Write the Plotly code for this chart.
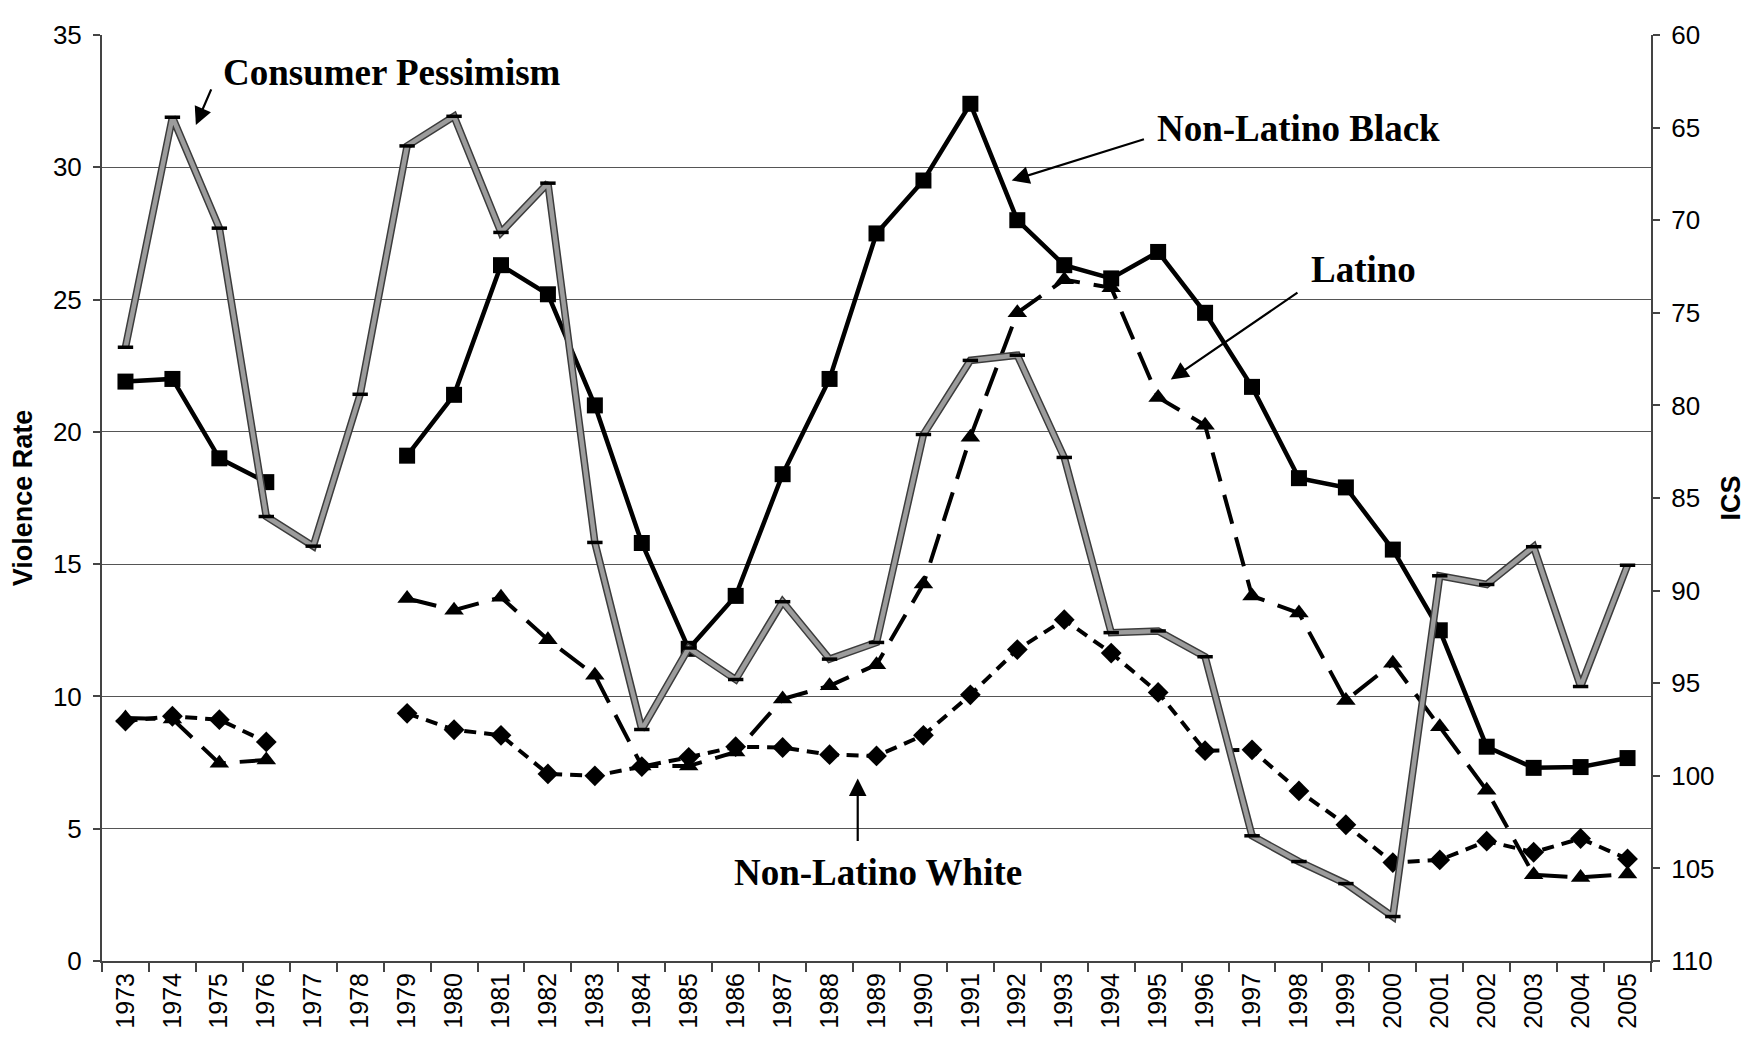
import plotly.graph_objects as go

years = [str(y) for y in range(1973, 2006)]

black = [21.9, 22.0, 19.0, 18.1, None, None, 19.1, 21.4, 26.3, 25.2, 21.0, 15.8,
         11.8, 13.8, 18.4, 22.0, 27.5, 29.5, 32.4, 28.0, 26.3, 25.8, 26.8, 24.5,
         21.7, 18.25, 17.9, 15.55, 12.5, 8.1, 7.3, 7.33, 7.67]

latino = [9.18, 9.15, 7.47, 7.6, None, None, 13.7, 13.26, 13.75, 12.14, 10.8, 7.37,
          7.37, 7.9, 9.9, 10.4, 11.2, 14.25, 19.8, 24.5, 25.75, 25.45, 21.3, 20.25,
          13.8, 13.15, 9.85, 11.25, 8.85, 6.45, 3.26, 3.16, 3.29]

white = [9.07, 9.25, 9.12, 8.28, None, None, 9.36, 8.74, 8.53, 7.07, 7.0, 7.35,
         7.7, 8.1, 8.07, 7.8, 7.75, 8.53, 10.06, 11.77, 12.9, 11.64, 10.15, 7.95,
         7.98, 6.43, 5.15, 3.72, 3.82, 4.53, 4.11, 4.63, 3.86]

ics = [76.86, 64.44, 70.43, 86.0, 87.6, 79.4, 65.99, 64.39, 70.66, 68.0, 87.4, 97.5,
       93.1, 94.8, 90.6, 93.7, 92.8, 81.57, 77.57, 77.29, 82.81, 92.27, 92.18, 93.57,
       103.24, 104.63, 105.82, 107.6, 89.2, 89.67, 87.63, 95.18, 88.63]

left_ticks = [0, 5, 10, 15, 20, 25, 30, 35]
right_ticks = [60, 65, 70, 75, 80, 85, 90, 95, 100, 105, 110]

SANS = "Liberation Sans, Arial, sans-serif"
SERIF = "Liberation Serif, Times New Roman, serif"

fig = go.Figure()

fig.add_trace(go.Scatter(
    x=years, y=black, mode="lines+markers", connectgaps=False,
    line=dict(color="black", width=4.5),
    marker=dict(symbol="square", size=16, color="black"),
    name="Non-Latino Black"))

fig.add_trace(go.Scatter(
    x=years, y=latino, mode="lines+markers", connectgaps=False,
    line=dict(color="black", width=4, dash="30px,14px"),
    marker=dict(symbol="triangle-up", size=17, color="black"),
    name="Latino"))

fig.add_trace(go.Scatter(
    x=years, y=white, mode="lines+markers", connectgaps=False,
    line=dict(color="black", width=4, dash="12px,8px"),
    marker=dict(symbol="diamond", size=16, color="black"),
    name="Non-Latino White"))

# Consumer pessimism (ICS, right axis), textured grey line
fig.add_trace(go.Scatter(
    x=years, y=ics, mode="lines", yaxis="y2",
    line=dict(color="#3c3c3c", width=7.5), hoverinfo="skip", showlegend=False))
fig.add_trace(go.Scatter(
    x=years, y=ics, mode="lines+markers", yaxis="y2",
    line=dict(color="#9c9c9c", width=4.5),
    marker=dict(symbol="line-ew", size=11, color="black",
                line=dict(color="black", width=3.5)),
    name="Consumer Pessimism"))

fig.update_layout(
    width=1750, height=1038,
    margin=dict(l=94, r=107, t=15, b=85, pad=0),
    paper_bgcolor="white", plot_bgcolor="white",
    showlegend=False,
    font=dict(family=SANS, size=26, color="black"),
    xaxis=dict(
        type="category", categoryorder="array", categoryarray=years,
        tickson="boundaries", ticks="outside", ticklen=9, tickwidth=1.5,
        tickcolor="#444", tickangle=-90,
        tickfont=dict(family=SANS, size=25, color="black"),
        showline=True, linecolor="#444", linewidth=2,
        showgrid=False, zeroline=False,
        range=[-0.5, len(years) - 0.5]),
    yaxis=dict(
        range=[0, 35], tickvals=left_ticks, ticks="outside", ticklen=7,
        tickwidth=1.5, tickcolor="#444", ticklabelstandoff=6,
        tickfont=dict(family=SANS, size=26, color="black"),
        showline=True, linecolor="#444", linewidth=2,
        showgrid=True, gridcolor="#555555", gridwidth=1.2, zeroline=False,
        title=dict(text="<b>Violence Rate</b>",
                   font=dict(family=SANS, size=27, color="black"), standoff=12)),
    yaxis2=dict(
        range=[110, 60], tickvals=right_ticks, overlaying="y", side="right",
        ticks="outside", ticklen=7, tickwidth=1.5, tickcolor="#444",
        ticklabelstandoff=6,
        tickfont=dict(family=SANS, size=26, color="black"),
        showline=True, linecolor="#444", linewidth=2,
        showgrid=False, zeroline=False,
        title=dict(text="<b>ICS</b>",
                   font=dict(family=SANS, size=27, color="black"), standoff=8)),
)

labels = [
    ("Consumer Pessimism", 5.68, 33.6),
    ("Non-Latino Black", 24.98, 31.48),
    ("Latino", 26.38, 26.14),
    ("Non-Latino White", 16.03, 3.35),
]
for text, xi, yv in labels:
    fig.add_annotation(x=xi, y=yv, xref="x", yref="y", text="<b>" + text + "</b>",
                       showarrow=False, xanchor="center", yanchor="middle",
                       font=dict(family=SERIF, size=37, color="black"))

arrows = [
    # (head x, head y, tail x, tail y)
    (1.5, 31.6, 1.84, 33.0),
    (18.88, 29.5, 21.73, 31.08),
    (22.27, 21.98, 25.0, 25.3),
    (15.6, 6.9, 15.6, 4.48),
]
for hx, hy, tx, ty in arrows:
    fig.add_annotation(x=hx, y=hy, xref="x", yref="y", ax=tx, ay=ty,
                       axref="x", ayref="y", text="", showarrow=True,
                       arrowhead=2, arrowsize=1.6, arrowwidth=2.2,
                       arrowcolor="black", standoff=0, startstandoff=0)

fig.write_html("out.html")
